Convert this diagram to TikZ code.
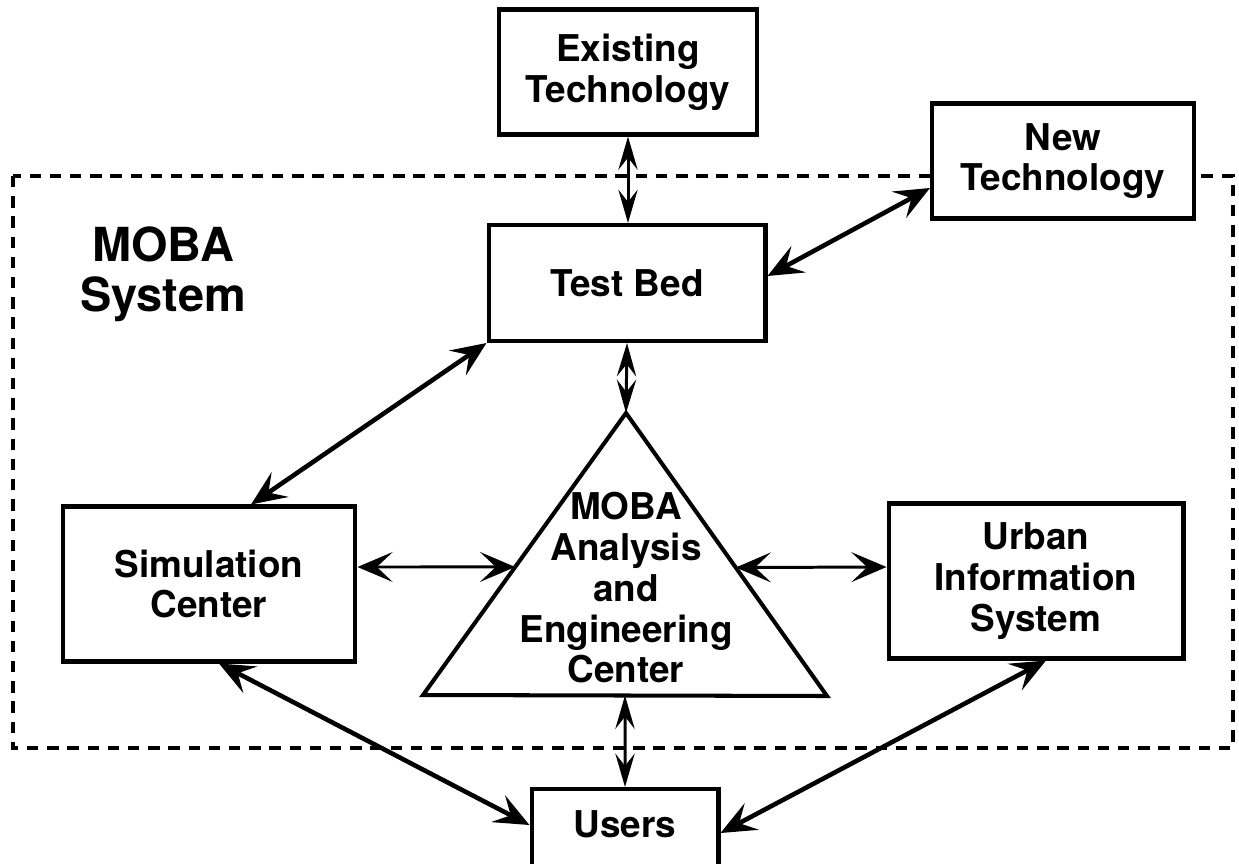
\documentclass[tikz,border=0pt]{standalone}
\usepackage{fontspec}
\newfontfamily\helv{TeX Gyre Heros}
\usetikzlibrary{arrows.meta,calc}
\pgfdeclarelayer{bg}
\pgfsetlayers{bg,main}
\tikzset{
  block/.style={draw, line width=2.3pt, fill=white, align=center, inner sep=0pt,
    font=\helv\bfseries\fontsize{21}{23.2}\selectfont},
  link/.style={line width=2.6pt, {Stealth[length=20pt,width=17pt,inset=8pt]}-{Stealth[length=20pt,width=17pt,inset=8pt]}},
  thinlink/.style={line width=1.7pt, {Stealth[length=20pt,width=17pt,inset=9pt]}-{Stealth[length=20pt,width=17pt,inset=9pt]}},
  narrowlink/.style={line width=1.7pt, {Stealth[length=19pt,width=11pt,inset=7pt]}-{Stealth[length=19pt,width=11pt,inset=7pt]}},
  frame/.style={line width=2.1pt, dash pattern=on 6.5pt off 5pt},
}

\begin{document}
\begin{tikzpicture}[x=0.02cm, y=-0.02cm]
        \useasboundingbox (0,0) rectangle (1239,864);
        \node (exist) [block, minimum width=5.16cm, minimum height=2.5cm] at (628,72) {Existing\\Technology};
        \node (newt) [block, minimum width=5.24cm, minimum height=2.3cm] at (1063,161) {New\\Technology};
        \node (bed) [block, minimum width=5.54cm, minimum height=2.32cm] at (627,283) {Test Bed};
        \node (sim) [block, minimum width=5.86cm, minimum height=3.1cm] at (209,584) {Simulation\\Center};
        \node (urban) [block, minimum width=5.9cm, minimum height=3.1cm] at (1036,581) {Urban\\Information\\System};
        \node (users) [block, anchor=north, minimum width=3.74cm, text height=0.96cm, text depth=0.8cm] at (625,787) {Users};
        \node (title) [align=center, font=\helv\bfseries\fontsize{26.7}{28.3}\selectfont] at (163,274) {MOBA\\System};
        % triangle
        \coordinate (tA) at (626,413);
        \coordinate (tL) at (423,695);
        \coordinate (tR) at (827,696);
        \draw [line width=2.3pt, fill=white] (tA) -- (tL) -- (tR) -- cycle;
        \node (aec) [align=center, font=\helv\bfseries\fontsize{21}{23.2}\selectfont] at (626,588) {MOBA\\Analysis\\and\\Engineering\\Center};
        \coordinate (tW) at ($(tA)!0.546!(tL)$);
        \coordinate (tE) at ($(tA)!0.546!(tR)$);
        \coordinate (tS) at ($(tL)!0.5!(tR)$);
        \begin{pgfonlayer}{bg}
                \draw [frame] (13,176) rectangle (1233,748);
                \draw (exist.south) edge [narrowlink] (exist.south |- bed.north);
                \draw ($(newt.west)+(0,27)$) edge [link] ($(bed.east)+(0,-7)$);
                \draw (bed.south west) edge [link] ($(sim.north)+(42,0)$);
                \draw (bed.south) edge [narrowlink] (tA);
                \draw ($(sim.east)+(0,-17)$) edge [thinlink] (tW);
                \draw (tE) edge [thinlink] ($(urban.west)+(0,-14)$);
                \draw (tS) edge [narrowlink] (users.north);
                \draw ($(sim.south)+(10,0)$) edge [link] ($(users.west)+(0,-8)$);
                \draw ($(urban.south)+(10,0)$) edge [link] (users.east);
        \end{pgfonlayer}
\end{tikzpicture}
\end{document}
